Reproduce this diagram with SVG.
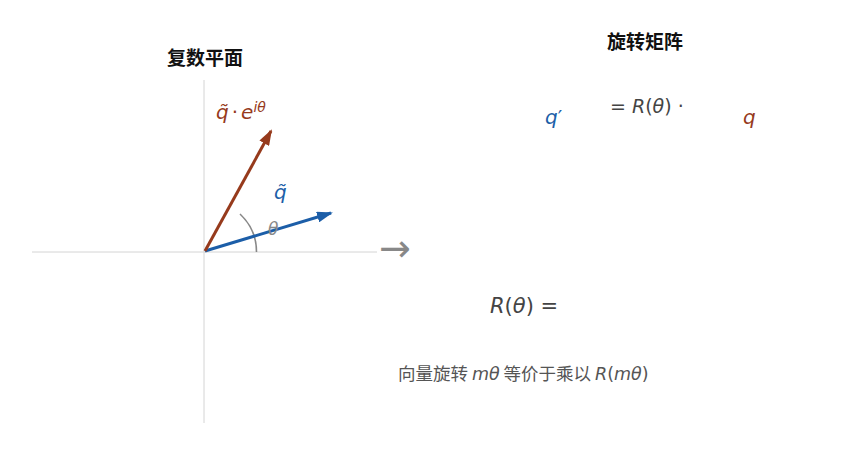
<svg xmlns="http://www.w3.org/2000/svg" width="859" height="456" viewBox="0 0 859 456">
<style>
.title{font-family:"Noto Sans CJK SC","DejaVu Sans",sans-serif;font-weight:bold;font-size:19px;fill:#111;text-anchor:middle}
.math{font-family:"DejaVu Sans",sans-serif;font-style:italic}
.axis{stroke:#d4d4d4;stroke-width:1}
.blue{fill:#1c5ea8}
.brown{fill:#963a1c}
</style>
<defs>
<marker id="ahB" markerWidth="16" markerHeight="11" refX="14" refY="5.5" orient="auto" markerUnits="userSpaceOnUse" viewBox="0 0 16 11"><path d="M0,0 L16,5.5 L0,11 Z" fill="#1c5ea8"/></marker>
<marker id="ahR" markerWidth="16" markerHeight="11" refX="14" refY="5.5" orient="auto" markerUnits="userSpaceOnUse" viewBox="0 0 16 11"><path d="M0,0 L16,5.5 L0,11 Z" fill="#963a1c"/></marker>
</defs>
<rect width="859" height="456" fill="#fff"/>
<g id="plane">
<text class="title" x="205" y="65">复数平面</text>
<line class="axis" x1="32" y1="252" x2="377" y2="252"/>
<line class="axis" x1="204" y1="80" x2="204" y2="423"/>
</g>
<g id="connectors">
<path d="M256.5,252 A52,52 0 0 0 240,214" fill="none" stroke="#888" stroke-width="1.6"/>
<line x1="205" y1="251" x2="331" y2="213" stroke="#1c5ea8" stroke-width="3" marker-end="url(#ahB)"/>
<line x1="205" y1="251" x2="271" y2="131" stroke="#963a1c" stroke-width="3" marker-end="url(#ahR)"/>
</g>
<g id="labels">
<text class="math" x="268" y="235" font-size="17" fill="#888">θ</text>
<text class="math blue" x="274" y="199" font-size="20">q̃</text>
<text class="math brown" x="216" y="119" font-size="20">q̃<tspan font-style="normal" dx="3">·</tspan><tspan dx="3">e</tspan><tspan font-size="14" dy="-7">iθ</tspan></text>
</g>
<g id="bigarrow">
<text x="395" y="261" font-family="DejaVu Sans,sans-serif" font-size="38" fill="#888" text-anchor="middle">→</text>
</g>
<g id="matrix">
<text class="title" x="645" y="49">旋转矩阵</text>
<text class="math blue" x="545" y="124" font-size="20">q<tspan font-style="normal">′</tspan></text>
<text x="610" y="113" font-family="DejaVu Sans,sans-serif" font-size="19" fill="#444">= <tspan class="math">R</tspan>(<tspan class="math">θ</tspan>) ·</text>
<text class="math brown" x="743" y="124" font-size="20">q</text>
<text x="490" y="313" font-family="DejaVu Sans,sans-serif" font-size="21" fill="#444"><tspan class="math">R</tspan>(<tspan class="math">θ</tspan>) =</text>
</g>
<g id="caption">
<text x="398" y="380" font-family="'Noto Sans CJK SC','DejaVu Sans',sans-serif" font-size="17.5" fill="#555">向量旋转 <tspan font-family="DejaVu Sans,sans-serif" font-style="italic">mθ</tspan> 等价于乘以 <tspan font-family="DejaVu Sans,sans-serif" font-style="italic">R</tspan><tspan font-family="DejaVu Sans,sans-serif">(</tspan><tspan font-family="DejaVu Sans,sans-serif" font-style="italic">mθ</tspan><tspan font-family="DejaVu Sans,sans-serif">)</tspan></text>
</g>
</svg>
